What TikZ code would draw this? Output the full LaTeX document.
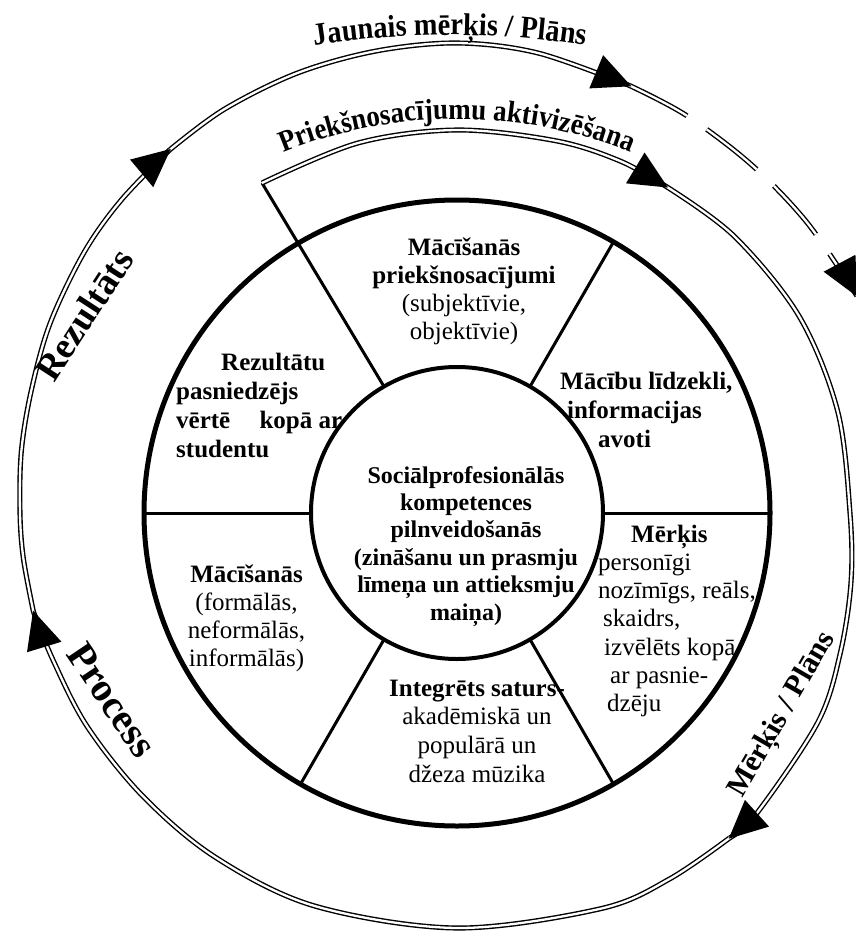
\documentclass[tikz,border=0pt]{standalone}
\usepackage{fontspec}
\setmainfont{Liberation Serif}
% a narrower cut of the same face for the arched track labels
\newfontfamily\arcfont[FakeStretch=0.9]{Liberation Serif}
\usetikzlibrary{decorations.text}
% a block of lines whose baseline is that of its first line
\newcommand\txtblock[2]{\begin{tabular}[t]{@{}#1@{}}#2\end{tabular}}
\tikzset{
  seg/.style={inner sep=0pt, font=\fontsize{25}{28.3}\selectfont},
  hubtext/.style={inner sep=0pt, font=\bfseries\fontsize{24}{27.4}\selectfont},
  ring/.style={draw, circle, inner sep=0pt, outer sep=0pt},
  spoke/.style={line width=3pt},
  track/.style={double, line width=1.4pt, double distance=2.3pt},
  tiphead/.style={fill=black},
  lbl/.style={inner sep=0pt, font=\bfseries\fontsize{#1}{#1}\selectfont},
}
% a filled arrowhead with its point at (x,y), pointing in direction a
\newcommand\headat[3]{\fill[tiphead, shift={(#1,#2)}, rotate=#3] (1pt,0pt) -- (-37pt,18pt) -- (-37pt,-18pt) -- cycle;}
\begin{document}
\begin{tikzpicture}[x=1pt,y=-1pt]
\useasboundingbox (0,0) rectangle (856,931);
\fill[white] (0,0) rectangle (856,931);

% wheel and hub
\coordinate (C) at (457,513);
\coordinate (s0) at (262,183);
\node[ring, line width=5pt, minimum size=626pt] (wheel) at (C) {};
\node[ring, line width=4pt, minimum size=292pt] (hub) at (C) {};
\foreach \a in {0,60,180,240,300} \draw[spoke] (hub.\a) -- (wheel.\a);
\draw[spoke] (hub.120) -- (s0);

% the cycle track
\draw[track] plot[smooth, tension=0.55] coordinates
  {(s0) (358,143) (457,130) (557,141) (621,161.4) (667,187)};
\draw[track] plot[smooth, tension=0.55] coordinates
  {(667,187) (734,236) (799,316) (837.6,411) (850,513) (851,582) (840.4,652.5) (818,722) (757,813) (729.5,838)};
\draw[track] plot[smooth, tension=0.55] coordinates
  {(729.5,838) (669.5,879) (601,908.6) (457,928) (314,905.8) (215,857) (142.7,796) (87.2,726.5) (53,660) (33.4,611.6)};
\draw[track] plot[smooth, tension=0.55] coordinates
  {(33.4,611.6) (23.4,558.6) (20,513) (21.3,451.8) (31.2,390.9) (50.1,323.3) (84.3,252) (121.3,200) (170,149.6)};
\draw[track] plot[smooth, tension=0.55] coordinates
  {(170,149.6) (224,109.4) (297,73.2) (375.6,51.1) (457,43) (538,53) (630.4,85.9)};
\draw[track, dash pattern=on 64pt off 24pt] plot[smooth, tension=0.55] coordinates
  {(630.4,85.9) (686.5,115.5) (751,164.3) (807.5,223.1) (856.9,295.9)};

% arrowheads along the track
\headat{667}{187}{-31}
\headat{729.5}{838}{-138}
\headat{33.4}{611.6}{107}
\headat{170}{149.6}{40}
\headat{630.4}{85.9}{-22.5}
\headat{856.9}{295.9}{-62}

% labels on the track
\path[decorate, decoration={text along path, text align=center,
    text={|\arcfont\bfseries\fontsize{31.5}{31.5}\selectfont|Jaunais mērķis / Plāns}}]
  plot[domain=0:28, samples=40, variable=\s] ({450+870*cos(104-\s)}, {905-870*sin(104-\s)});
\path[decorate, decoration={text along path, text align=center,
    text={|\arcfont\bfseries\fontsize{30}{30}\selectfont|Priekšnosacījumu aktivizēšana}}]
  plot[domain=0:60, samples=60, variable=\s] ({457+466*cos(120-\s)}, {585-466*sin(120-\s)});
\node[lbl=37, rotate=57] (res) at (84,315) {Rezultāts};
\node[lbl=40, rotate=-56] (proc) at (112,700) {Process};
\node[lbl=30, rotate=60] (plan) at (783,715) {Mērķis / Plāns};

% sector texts
\node[seg, anchor=base] (pre) at (464,255)
  {\txtblock{c}{\textbf{Mācīšanās}\\\textbf{priekšnosacījumi}\\(subjektīvie,\\objektīvie)}};
\node[seg, anchor=base west, font=\bfseries\fontsize{25}{29}\selectfont] (tools) at (560,389)
  {\txtblock{l}{Mācību līdzekli,\\\hspace*{7pt}informacijas\\\hspace*{38pt}avoti}};
\node[seg, anchor=base west, font=\bfseries\fontsize{25}{29}\selectfont] (eval) at (176,370)
  {\txtblock{l}{\hspace*{45pt}Rezultātu\\pasniedzējs\\vērtē\hspace*{23pt} kopā ar\\studentu}};
\node[seg, anchor=base west] (aimtext) at (598,542)
  {\txtblock{l}{\hspace*{33pt}\textbf{Mērķis}\\personīgi\\nozīmīgs, reāls,\\\hspace*{5pt}skaidrs,\\\hspace*{6pt}izvēlēts kopā\\\hspace*{12pt}ar pasnie-\\\hspace*{9pt}dzēju}};
\node[seg, anchor=base, font=\fontsize{25}{28.7}\selectfont] (content) at (477,696)
  {\txtblock{c}{\textbf{Integrēts saturs-}\\akadēmiskā un\\populārā un\\džeza mūzika}};
\node[seg, anchor=base] (learn) at (246.5,582)
  {\txtblock{c}{\textbf{Mācīšanās}\\(formālās,\\neformālās,\\informālās)}};
\node[hubtext, anchor=base] (core) at (466,483)
  {\txtblock{c}{Sociālprofesionālās\\kompetences\\pilnveidošanās\\(zināšanu un prasmju\\līmeņa un attieksmju\\maiņa)}};
\end{tikzpicture}
\end{document}
